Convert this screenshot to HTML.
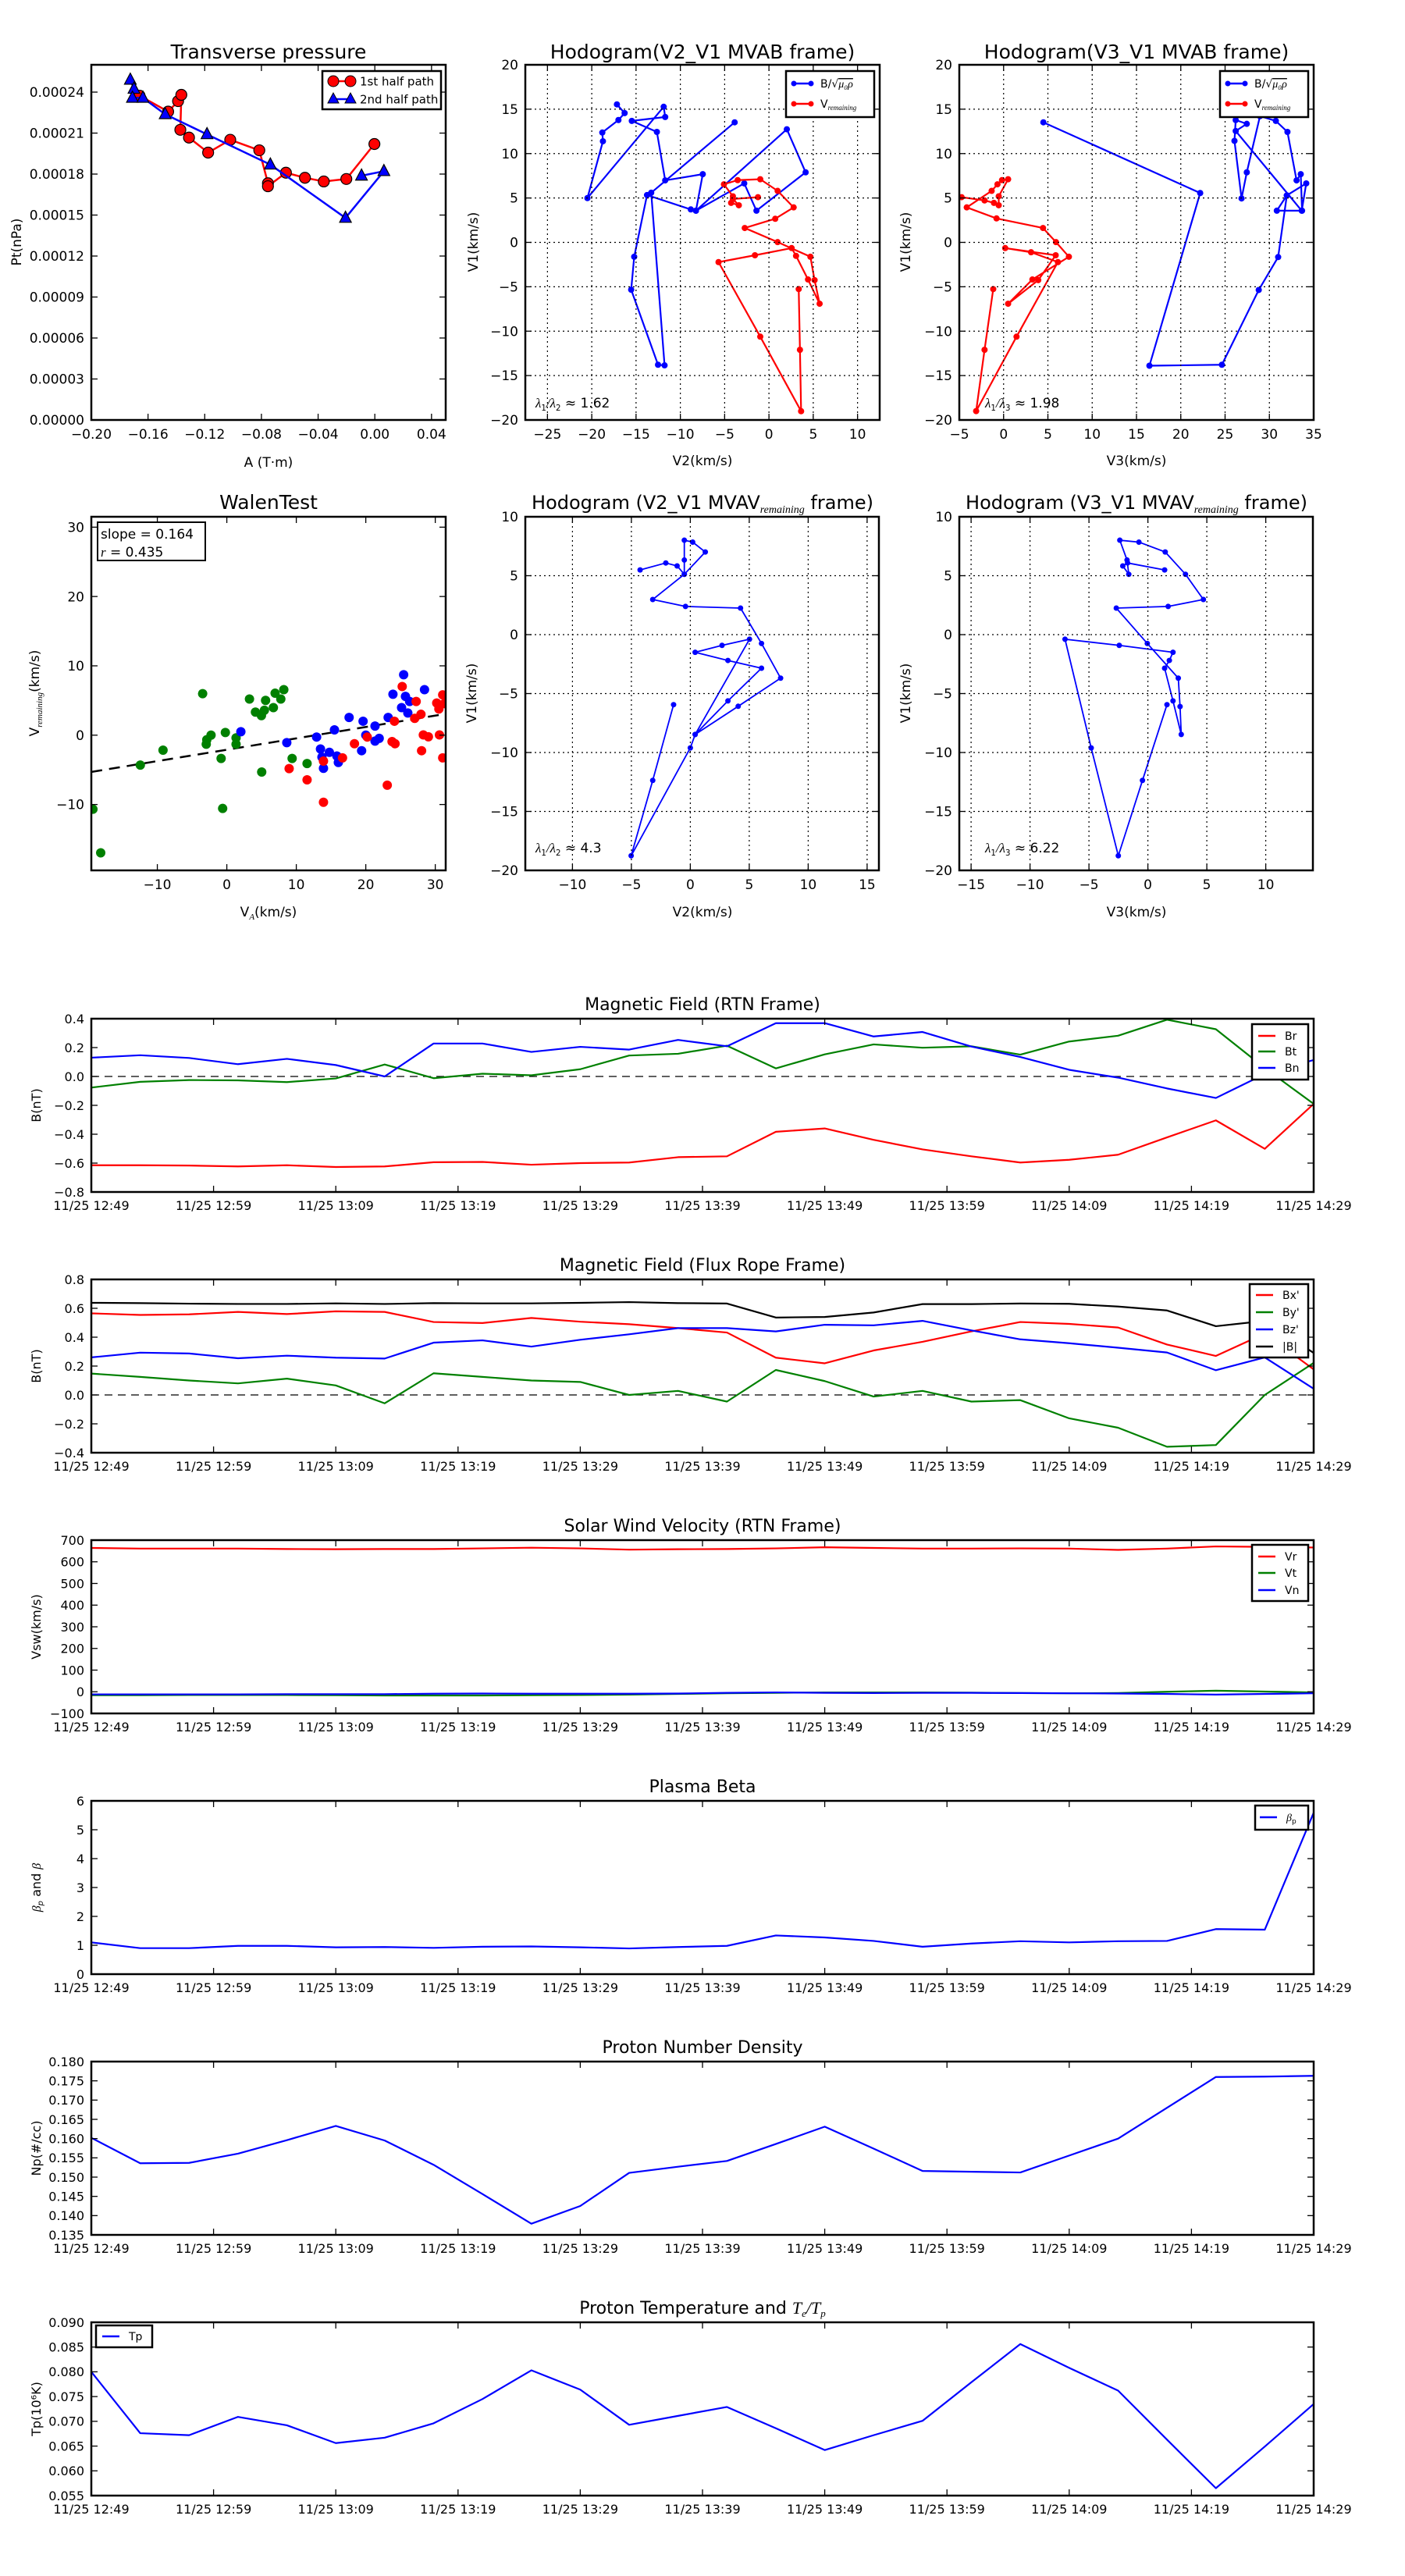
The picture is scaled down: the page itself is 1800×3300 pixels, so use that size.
<!DOCTYPE html>
<html><head><meta charset="utf-8"><title>Flux rope analysis</title>
<style>
html,body{margin:0;padding:0;background:#fff;}
svg{display:block;font-family:"DejaVu Sans","Liberation Sans",sans-serif;}
</style></head>
<body>
<svg id="fig" width="1800" height="3300" viewBox="0 0 1800 3300" xmlns="http://www.w3.org/2000/svg">
<rect x="0" y="0" width="1800" height="3300" fill="#fff"/>
</svg>
<script>
// ===== data =====
const tpRedA=[-0.166,-0.1458,-0.1388,-0.1365,-0.1372,-0.1311,-0.1176,-0.1020,-0.0815,-0.0754,-0.0754,-0.0627,-0.0493,-0.0360,-0.0201,-0.0003];
const tpRedP=[0.0002374,0.0002257,0.0002334,0.0002380,0.0002124,0.0002067,0.0001957,0.0002051,0.0001974,0.0001733,0.0001711,0.0001810,0.0001773,0.0001746,0.0001764,0.0002020];
const tpBlueA=[-0.1725,-0.1699,-0.1710,-0.1636,-0.1479,-0.1184,-0.0737,-0.0207,0.0064,-0.0094];
const tpBlueP=[0.000249,0.0002424,0.0002358,0.0002358,0.0002238,0.0002091,0.0001869,0.0001479,0.0001821,0.0001788];

const h1BV2=[-3.87,-13.29,-11.78,-12.52,-15.55,-15.21,-13.76,-8.82,-8.24,2.02,4.14,-1.41,-2.79,-8.24,-7.47,-11.71,-12.65,-15.48,-11.71,-11.88,-20.49,-18.74,-18.81,-16.99,-16.29,-17.16];
const h1BV1=[13.52,5.59,-13.85,-13.78,-5.33,-1.62,5.33,3.71,3.57,12.74,7.89,3.57,6.64,3.57,7.68,6.98,12.44,13.68,14.12,15.27,4.99,11.39,12.37,13.78,14.56,15.54];
const h1RV2=[3.36,3.50,3.63,-0.98,-5.69,-1.58,2.56,3.06,4.41,5.72,5.15,4.68,0.98,-2.73,0.71,2.79,0.98,-0.98,-3.53,-5.08,-4.07,-4.27,-3.40,-4.07,-1.24];
const h1RV1=[-5.26,-12.10,-19.01,-10.62,-2.22,-1.45,-0.64,-1.52,-4.18,-6.91,-4.25,-1.62,0.03,1.62,2.66,3.94,5.80,7.11,7.01,6.54,5.19,4.45,4.18,4.89,5.09];

const h3BV3=[4.49,22.19,16.46,24.64,28.80,30.99,31.97,34.16,33.65,26.20,27.45,26.20,26.06,26.86,27.45,28.94,30.73,32.04,33.07,33.54,33.69,30.84,31.97];
const h3BV1=[13.52,5.56,-13.89,-13.78,-5.36,-1.65,5.29,6.64,3.57,12.54,13.35,13.78,11.43,4.95,7.89,14.22,13.68,12.44,6.98,7.68,3.57,3.57,5.29];
const h3RV3=[-1.17,-2.15,-3.10,1.46,6.13,3.10,0.18,5.88,3.91,0.51,3.25,7.37,5.91,4.45,-0.80,-4.16,-1.35,-0.69,-0.18,0.51,-0.55,-0.55,-1.09,-2.15,-4.74];
const h3RV1=[-5.26,-12.10,-19.0,-10.62,-2.22,-1.11,-0.64,-1.45,-4.25,-6.91,-4.18,-1.62,0.03,1.62,2.70,3.94,5.80,6.54,7.01,7.11,5.19,4.18,4.45,4.72,5.09];

const wGX=[-3.48,3.26,5.58,6.95,8.20,7.77,4.12,4.98,5.41,6.70,-2.88,-2.27,-2.96,-0.21,1.33,1.33,-9.18,-12.45,-0.82,9.40,11.55,5.02,-0.60,-19.27,-18.15];
const wGY=[5.98,5.21,5.01,6.05,6.56,5.21,3.32,2.82,3.59,3.97,-0.66,0,-1.31,0.39,-0.39,-1.31,-2.16,-4.32,-3.36,-3.36,-4.09,-5.32,-10.57,-10.68,-16.97];
const wBX=[2.02,8.63,12.92,13.48,13.69,13.91,14.76,15.49,15.84,16.05,17.60,19.40,19.61,20.00,21.33,21.33,21.93,23.22,23.91,25.15,25.45,25.71,26.05,26.31,28.45];
const wBY=[0.50,-1.08,-0.27,-1.99,-3.16,-4.78,-2.47,0.77,-3.01,-3.93,2.55,-2.24,2.01,0,1.31,-0.85,-0.46,2.55,5.90,3.97,8.72,5.59,3.20,4.86,6.56];
const wRX=[8.97,11.55,13.91,13.91,16.65,18.37,20.21,23.09,23.78,24.21,24.12,25.24,27.04,27.25,27.94,28.03,28.28,29.01,30.21,30.52,30.60,31.07,31.07,31.29];
const wRY=[-4.82,-6.44,-3.74,-9.68,-3.28,-1.23,-0.27,-7.21,-0.93,-1.23,2.01,7.02,2.43,4.86,3.01,-2.24,0.04,-0.23,4.63,3.78,0.04,5.82,-3.28,4.55];
const walenSlope=0.164;
const walenIntercept=-2.1;

const h2V2=[-1.42,-3.19,-5.02,0,0.41,5.02,2.69,0.41,3.19,6.04,3.19,0.41,4.06,7.66,6.04,4.26,-0.41,-3.19,-0.51,1.27,0.20,-0.51,-0.51,-0.51,-1.12,-2.08,-4.26];
const h2V1=[-5.94,-12.37,-18.76,-9.61,-8.47,-0.39,-0.91,-1.50,-2.19,-2.85,-5.62,-8.47,-6.08,-3.69,-0.75,2.25,2.39,2.98,5.12,7.01,7.85,8.01,6.33,5.12,5.83,6.08,5.49];
const h4V3=[1.62,-0.46,-2.51,-4.81,-7.03,-2.43,2.13,1.82,1.42,2.13,2.83,2.73,2.58,-0.05,-2.68,1.72,4.71,3.19,1.47,-0.76,-2.38,-1.77,-1.62,-2.13,-1.72,1.42];
const h4V1=[-5.94,-12.37,-18.76,-9.61,-0.39,-0.91,-1.50,-2.19,-2.85,-5.62,-8.47,-6.10,-3.69,-0.75,2.25,2.39,2.98,5.12,7.01,7.85,8.01,6.33,5.12,5.83,6.08,5.49];

const tMinutes=[0,4,8,12,16,20,24,28,32,36,40,44,48,52,56,60,64,68,72,76,80,84,88,92,96,100];
const timeTickMin=[0,10,20,30,40,50,60,70,80,90,100];
const timeTickLabels=["11/25 12:49","11/25 12:59","11/25 13:09","11/25 13:19","11/25 13:29","11/25 13:39","11/25 13:49","11/25 13:59","11/25 14:09","11/25 14:19","11/25 14:29"];

const Br=[-0.615,-0.615,-0.617,-0.623,-0.615,-0.627,-0.623,-0.594,-0.592,-0.611,-0.600,-0.596,-0.559,-0.553,-0.383,-0.360,-0.439,-0.505,-0.553,-0.596,-0.577,-0.542,-0.422,-0.304,-0.501,-0.190];
const Bt=[-0.077,-0.037,-0.025,-0.027,-0.039,-0.014,0.083,-0.012,0.019,0.008,0.050,0.145,0.157,0.213,0.056,0.153,0.222,0.199,0.209,0.151,0.242,0.282,0.393,0.327,0.058,-0.190];
const Bn=[0.130,0.147,0.128,0.085,0.122,0.079,0.0,0.228,0.228,0.170,0.205,0.186,0.253,0.209,0.369,0.369,0.277,0.308,0.207,0.135,0.046,-0.008,-0.083,-0.149,0.017,0.114];
const Bxp=[0.565,0.554,0.558,0.575,0.560,0.579,0.575,0.505,0.498,0.533,0.507,0.490,0.463,0.432,0.258,0.219,0.308,0.368,0.440,0.505,0.492,0.467,0.349,0.270,0.425,0.177];
const Byp=[0.148,0.125,0.100,0.080,0.113,0.066,-0.058,0.150,0.125,0.100,0.090,0.0,0.028,-0.046,0.173,0.096,-0.011,0.028,-0.046,-0.036,-0.162,-0.227,-0.359,-0.347,0.0,0.222];
const Bzp=[0.260,0.293,0.287,0.254,0.272,0.258,0.252,0.362,0.378,0.335,0.382,0.420,0.463,0.463,0.440,0.486,0.482,0.513,0.447,0.385,0.358,0.327,0.294,0.171,0.260,0.043];
const Bmag=[0.638,0.636,0.632,0.630,0.630,0.634,0.630,0.636,0.634,0.634,0.638,0.643,0.636,0.633,0.536,0.540,0.571,0.629,0.629,0.633,0.631,0.612,0.585,0.476,0.513,0.291];
const Vr=[664,661,661,661,659,658,659,659,662,665,662,656,658,659,662,667,664,661,661,662,661,655,661,671,669,666];
const Vt=[-16,-16,-15,-15,-15,-16,-17,-17,-17,-16,-15,-13,-10,-7,-5,-3,-3,-3,-4,-6,-7,-6,0,5,1,-3];
const Vn=[-12,-12,-12,-12,-11,-11,-11,-9,-8,-9,-9,-9,-8,-5,-3,-5,-6,-5,-5,-6,-7,-8,-10,-13,-10,-7];
const betaP=[1.10,0.90,0.90,0.98,0.98,0.93,0.94,0.91,0.95,0.96,0.93,0.89,0.94,0.98,1.34,1.27,1.15,0.95,1.06,1.14,1.10,1.14,1.15,1.56,1.54,5.59];
const Np=[0.1602,0.1536,0.1537,0.1561,0.1596,0.1633,0.1595,0.1532,0.1456,0.1379,0.1425,0.1511,0.1527,0.1542,0.1586,0.1631,0.1574,0.1516,0.1514,0.1512,0.1556,0.1600,0.1680,0.1760,0.1761,0.1763];
const Tp=[0.0800,0.0676,0.0672,0.0709,0.0692,0.0656,0.0667,0.0696,0.0745,0.0803,0.0764,0.0693,0.0711,0.0729,0.0686,0.0642,0.0672,0.0701,0.0779,0.0856,0.0808,0.0762,0.0663,0.0565,0.0649,0.0735];

// ===== helpers =====
const NS='http://www.w3.org/2000/svg';
const svg=document.getElementById('fig');
function mk(tag,attrs,parent){const e=document.createElementNS(NS,tag);for(const k in attrs)e.setAttribute(k,attrs[k]);(parent||svg).appendChild(e);return e;}
function txt(s,x,y,attrs,parent){const t=mk('text',Object.assign({x:x,y:y},attrs),parent);t.textContent=s;return t;}
let clipN=0;
function axes(name,x0,y0,w,h,xmin,xmax,ymin,ymax){
  const g=mk('g',{});
  
  
  const id='clip'+(clipN++);
  const cp=mk('clipPath',{id:id},g);mk('rect',{x:x0,y:y0,width:w,height:h},cp);
  const plot=mk('g',{'clip-path':'url(#'+id+')'},g);
  
  
  return {g:g,plot:plot,x0:x0,y0:y0,w:w,h:h,
    sx:v=>x0+(v-xmin)/(xmax-xmin)*w, sy:v=>y0+h-(v-ymin)/(ymax-ymin)*h};
}
function frame(ax){const r=mk('rect',{x:ax.x0,y:ax.y0,width:ax.w,height:ax.h,fill:'none',stroke:'#000','stroke-width':2.5},ax.g);
  
  }
function xticks(ax,vals,labels,o){
  for(let i=0;i<vals.length;i++){const x=ax.sx(vals[i]);
    if(o.grid){const gl=mk('line',{x1:x,x2:x,y1:ax.y0,y2:ax.y0+ax.h,stroke:'#000','stroke-width':1.2,'stroke-dasharray':'2,4'},ax.g);
      
      }
    mk('line',{x1:x,x2:x,y1:ax.y0+ax.h,y2:ax.y0+ax.h-8,stroke:'#000','stroke-width':1.3},ax.g);
    mk('line',{x1:x,x2:x,y1:ax.y0,y2:ax.y0+8,stroke:'#000','stroke-width':1.3},ax.g);
    const t=txt(labels[i],x,ax.y0+ax.h+o.dy,{'font-size':o.fs,'text-anchor':'middle',fill:'#000'},ax.g);
    
    }
}
function yticks(ax,vals,labels,o){
  for(let i=0;i<vals.length;i++){const y=ax.sy(vals[i]);
    if(o.grid){const gl=mk('line',{x1:ax.x0,x2:ax.x0+ax.w,y1:y,y2:y,stroke:'#000','stroke-width':1.2,'stroke-dasharray':'2,4'},ax.g);
      
      }
    mk('line',{x1:ax.x0,x2:ax.x0+8,y1:y,y2:y,stroke:'#000','stroke-width':1.3},ax.g);
    mk('line',{x1:ax.x0+ax.w,x2:ax.x0+ax.w-8,y1:y,y2:y,stroke:'#000','stroke-width':1.3},ax.g);
    const t=txt(labels[i],ax.x0-9,y+o.fs*0.36,{'font-size':o.fs,'text-anchor':'end',fill:'#000'},ax.g);
    
    }
}
function series(ax,xs,ys,color,lw,name){
  const pts=xs.map((v,i)=>ax.sx(v).toFixed(2)+','+ax.sy(ys[i]).toFixed(2)).join(' ');
  const p=mk('polyline',{points:pts,fill:'none',stroke:color,'stroke-width':lw,'stroke-linejoin':'round'},ax.plot);
  
  
  return p;
}
function markers(ax,xs,ys,color,r,edge,name,tri){
  for(let i=0;i<xs.length;i++){const x=ax.sx(xs[i]),y=ax.sy(ys[i]);let m;
    if(tri){m=mk('polygon',{points:(x)+','+(y-r*1.15)+' '+(x-r)+','+(y+r*0.75)+' '+(x+r)+','+(y+r*0.75),fill:color,stroke:edge||'none','stroke-width':1.2},ax.plot);}
    else{m=mk('circle',{cx:x,cy:y,r:r,fill:color,stroke:edge||'none','stroke-width':1.2},ax.plot);}
    
    }
}
function title(s,x,y,fs){const t=txt(s,x,y,{'font-size':fs,'text-anchor':'middle',fill:'#000'});
  
  return t;}
function ylabel(s,x,y,fs){const t=txt(s,0,0,{'font-size':fs,'text-anchor':'middle',transform:'translate('+x+','+y+') rotate(-90)',fill:'#000'});
  
  return t;}
function xlabel(s,x,y,fs){const t=txt(s,x,y,{'font-size':fs,'text-anchor':'middle',fill:'#000'});
  
  return t;}
function legendBox(x,y,w,h){const g=mk('g',{});
  
  
  mk('rect',{x:x,y:y,width:w,height:h,fill:'#fff',stroke:'#000','stroke-width':2.5},g);return g;}
function legendEntry(g,x,y,color,label,fs,mark){
  const e=mk('g',{},g);
  
  
  mk('line',{x1:x,x2:x+22,y1:y,y2:y,stroke:color,'stroke-width':2.5},e);
  if(mark==='c'){mk('circle',{cx:x,cy:y,r:3.5,fill:color},e);mk('circle',{cx:x+22,cy:y,r:3.5,fill:color},e);}
  if(mark==='C'){mk('circle',{cx:x,cy:y,r:7,fill:color,stroke:'#000'},e);mk('circle',{cx:x+22,cy:y,r:7,fill:color,stroke:'#000'},e);}
  if(mark==='T'){[x,x+22].forEach(cx=>mk('polygon',{points:cx+','+(y-8)+' '+(cx-7)+','+(y+5)+' '+(cx+7)+','+(y+5),fill:color,stroke:'#000'},e));}
  const t=txt('',x+34,y+fs*0.36,{'font-size':fs,fill:'#000'},e);
  if(typeof label==='string'){t.textContent=label;}else{label(t);}
}
function range(a,b,s){const r=[];for(let v=a;v<=b+1e-9;v+=s)r.push(+v.toFixed(6));return r;}
const fmtN=(v,d)=>(v<0?'\u2212':'')+Math.abs(v).toFixed(d);

// ===== Row 1: transverse pressure =====
(function(){
  const ax=axes('transverse-pressure-chart',117,83,454,455,-0.20,0.05,0,0.00026);
  xticks(ax,range(-0.20,0.04,0.04),range(-0.20,0.04,0.04).map(v=>fmtN(v,2)),{fs:17,dy:24});
  yticks(ax,range(0,0.00024,0.00003),range(0,0.00024,0.00003).map(v=>v.toFixed(5)),{fs:17});
  series(ax,tpRedA,tpRedP,'#ff0000',2.5,'first-half-path-line');
  markers(ax,tpRedA,tpRedP,'#ff0000',7,'#000','first-half-marker');
  series(ax,tpBlueA,tpBlueP,'#0000ff',2.5,'second-half-path-line');
  markers(ax,tpBlueA,tpBlueP,'#0000ff',7.5,'#000','second-half-marker',true);
  frame(ax);
  title('Transverse pressure',344,75,25);
  xlabel('A (T\u00b7m)',344,598,17);
  ylabel('Pt(nPa)',27,310,17);
  const lg=legendBox(413,91,152,49);
  legendEntry(lg,427,104,'#ff0000','1st half path',15,'C');
  legendEntry(lg,427,127,'#0000ff','2nd half path',15,'T');
})();

function hodoLegend(x,y){
  const lg=legendBox(x,y,113,59);
  legendEntry(lg,x+10,y+16,'#0000ff',t=>{t.textContent='B/\u221a';const s=mk('tspan',{'font-style':'italic','font-family':'Liberation Serif,serif','text-decoration':'overline'},t);s.textContent='\u03bc\u2080\u03c1';},14,'c');
  legendEntry(lg,x+10,y+42,'#0000ff'==='x'?'':'#ff0000',t=>{t.textContent='V';const s=mk('tspan',{'font-style':'italic','font-size':9,dy:3,'font-family':'Liberation Serif,serif'},t);s.textContent='remaining';},14,'c');
}
function lambda(ax,x,y,sub,val,fs){
  const t=txt('',x,y,{'font-size':fs,fill:'#000'},ax.g);
  
  
  const a=mk('tspan',{'font-style':'italic','font-family':'Liberation Serif,serif'},t);a.textContent='\u03bb';
  const b=mk('tspan',{'font-size':fs*0.6,dy:4},t);b.textContent='1';
  const c=mk('tspan',{dy:-4,'font-family':'Liberation Serif,serif','font-style':'italic'},t);c.textContent='/\u03bb';
  const d=mk('tspan',{'font-size':fs*0.6,dy:4},t);d.textContent=sub;
  const e=mk('tspan',{dy:-4},t);e.textContent=' \u2248 '+val;
}

// ===== Row 1: hodogram V2_V1 MVAB =====
(function(){
  const ax=axes('hodogram-v2-v1-mvab',673,83,454,455,-27.5,12.5,-20,20);
  xticks(ax,range(-25,10,5),range(-25,10,5).map(v=>fmtN(v,0)),{fs:17,dy:24,grid:true});
  yticks(ax,range(-20,20,5),range(-20,20,5).map(v=>fmtN(v,0)),{fs:17,grid:true});
  series(ax,h1BV2,h1BV1,'#0000ff',2.2,'alfven-velocity-path');
  markers(ax,h1BV2,h1BV1,'#0000ff',4,null,'alfven-point');
  series(ax,h1RV2,h1RV1,'#ff0000',2.2,'remaining-velocity-path');
  markers(ax,h1RV2,h1RV1,'#ff0000',4,null,'remaining-point');
  frame(ax);
  lambda(ax,686,522,'2','1.62',17);
  title('Hodogram(V2_V1 MVAB frame)',900,75,25);
  xlabel('V2(km/s)',900,596,17);
  ylabel('V1(km/s)',612,310,17);
  hodoLegend(1007,91);
})();

// ===== Row 1: hodogram V3_V1 MVAB =====
(function(){
  const ax=axes('hodogram-v3-v1-mvab',1229,83,454,455,-5,35,-20,20);
  xticks(ax,range(-5,35,5),range(-5,35,5).map(v=>fmtN(v,0)),{fs:17,dy:24,grid:true});
  yticks(ax,range(-20,20,5),range(-20,20,5).map(v=>fmtN(v,0)),{fs:17,grid:true});
  series(ax,h3BV3,h3BV1,'#0000ff',2.2,'alfven-velocity-path');
  markers(ax,h3BV3,h3BV1,'#0000ff',4,null,'alfven-point');
  series(ax,h3RV3,h3RV1,'#ff0000',2.2,'remaining-velocity-path');
  markers(ax,h3RV3,h3RV1,'#ff0000',4,null,'remaining-point');
  frame(ax);
  lambda(ax,1262,522,'3','1.98',17);
  title('Hodogram(V3_V1 MVAB frame)',1456,75,25);
  xlabel('V3(km/s)',1456,596,17);
  ylabel('V1(km/s)',1166,310,17);
  hodoLegend(1563,91);
})();

// ===== Row 2: Walen test =====
(function(){
  const ax=axes('walen-test-chart',117,662,454,453,-19.5,31.5,-19.5,31.5);
  xticks(ax,range(-10,30,10),range(-10,30,10).map(v=>fmtN(v,0)),{fs:17,dy:24});
  yticks(ax,range(-10,30,10),range(-10,30,10).map(v=>fmtN(v,0)),{fs:17});
  series(ax,[-19.5,31.5],[walenSlope*-19.5+walenIntercept,walenSlope*31.5+walenIntercept],'#000',2.5,'regression-line').setAttribute('stroke-dasharray','14,9');
  markers(ax,wGX,wGY,'#008000',6,null,'walen-point-green');
  markers(ax,wBX,wBY,'#0000ff',6,null,'walen-point-blue');
  markers(ax,wRX,wRY,'#ff0000',6,null,'walen-point-red');
  frame(ax);
  const box=mk('g',{},ax.g);
  
  
  mk('rect',{x:125,y:669,width:138,height:49,fill:'#fff',stroke:'#000','stroke-width':2},box);
  txt('slope = 0.164',129,690,{'font-size':17,fill:'#000'},box);
  const r=txt('',129,713,{'font-size':17,fill:'#000'},box);
  const ri=mk('tspan',{'font-style':'italic','font-family':'Liberation Serif,serif'},r);ri.textContent='r';
  const rv=mk('tspan',{},r);rv.textContent=' = 0.435';
  title('WalenTest',344,652,25);
  const xl=xlabel('V',344,1174,17);
  const xs=mk('tspan',{'font-size':11,dy:4,'font-style':'italic','font-family':'Liberation Serif,serif'},xl);xs.textContent='A';
  const xs2=mk('tspan',{dy:-4},xl);xs2.textContent='(km/s)';
  const yl=ylabel('V',50,888,17);
  const ys=mk('tspan',{'font-size':11,dy:4,'font-style':'italic','font-family':'Liberation Serif,serif'},yl);ys.textContent='remaining';
  const ys2=mk('tspan',{dy:-4},yl);ys2.textContent='(km/s)';
})();

function mvavTitle(x,comp){
  const t=title('Hodogram ('+comp+' MVAV',x,652,24);
  const s=mk('tspan',{'font-size':14,dy:5,'font-style':'italic','font-family':'Liberation Serif,serif'},t);s.textContent='remaining';
  const e=mk('tspan',{dy:-5},t);e.textContent=' frame)';
}
// ===== Row 2: hodogram V2_V1 MVAV =====
(function(){
  const ax=axes('hodogram-v2-v1-mvav',673,662,453,453,-14,16,-20,10);
  xticks(ax,range(-10,15,5),range(-10,15,5).map(v=>fmtN(v,0)),{fs:17,dy:24,grid:true});
  yticks(ax,range(-20,10,5),range(-20,10,5).map(v=>fmtN(v,0)),{fs:17,grid:true});
  series(ax,h2V2,h2V1,'#0000ff',1.8,'mvav-path');
  markers(ax,h2V2,h2V1,'#0000ff',3.5,null,'mvav-point');
  frame(ax);
  lambda(ax,686,1092,'2','4.3',17);
  mvavTitle(900,'V2_V1');
  xlabel('V2(km/s)',900,1174,17);
  ylabel('V1(km/s)',610,888,17);
})();
// ===== Row 2: hodogram V3_V1 MVAV =====
(function(){
  const ax=axes('hodogram-v3-v1-mvav',1229,662,453,453,-16,14,-20,10);
  xticks(ax,range(-15,10,5),range(-15,10,5).map(v=>fmtN(v,0)),{fs:17,dy:24,grid:true});
  yticks(ax,range(-20,10,5),range(-20,10,5).map(v=>fmtN(v,0)),{fs:17,grid:true});
  series(ax,h4V3,h4V1,'#0000ff',1.8,'mvav-path');
  markers(ax,h4V3,h4V1,'#0000ff',3.5,null,'mvav-point');
  frame(ax);
  lambda(ax,1262,1092,'3','6.22',17);
  mvavTitle(1456,'V3_V1');
  xlabel('V3(km/s)',1456,1174,17);
  ylabel('V1(km/s)',1166,888,17);
})();

// ===== Time series panels =====
function tsPanel(name,top,ymin,ymax,ystep,ydec,ttl,ylab,list,zero){
  const ax=axes(name,117,top,1566,222,0,100,ymin,ymax);
  xticks(ax,timeTickMin,timeTickLabels,{fs:16,dy:23});
  const yv=range(ymin,ymax,ystep);
  yticks(ax,yv,yv.map(v=>fmtN(v,ydec)),{fs:16});
  if(zero){const z=mk('line',{x1:117,x2:1683,y1:ax.sy(0),y2:ax.sy(0),stroke:'#000','stroke-width':1.3,'stroke-dasharray':'10,7'},ax.plot);
    
    }
  list.forEach(s=>series(ax,tMinutes,s[0],s[1],2.2,s[2]));
  frame(ax);
  const t=title(ttl,900,top-11,22);
  const yl=ylabel(ylab,52,top+111,16);
  return {ax:ax,title:t,ylab:yl};
}
tsPanel('magnetic-field-rtn-chart',1305,-0.8,0.4,0.2,1,'Magnetic Field (RTN Frame)','B(nT)',[[Br,'#ff0000','br-line'],[Bt,'#008000','bt-line'],[Bn,'#0000ff','bn-line']],true);
(function(){const lg=legendBox(1604,1312,72,71);
  legendEntry(lg,1612,1327,'#ff0000','Br',14);legendEntry(lg,1612,1347,'#008000','Bt',14);legendEntry(lg,1612,1368,'#0000ff','Bn',14);})();
tsPanel('magnetic-field-flux-rope-chart',1639,-0.4,0.8,0.2,1,'Magnetic Field (Flux Rope Frame)','B(nT)',[[Bxp,'#ff0000','bx-prime-line'],[Byp,'#008000','by-prime-line'],[Bzp,'#0000ff','bz-prime-line'],[Bmag,'#000000','b-magnitude-line']],true);
(function(){const lg=legendBox(1601,1645,75,94);
  legendEntry(lg,1609,1659,'#ff0000',"Bx'",14);legendEntry(lg,1609,1681,'#008000',"By'",14);legendEntry(lg,1609,1703,'#0000ff',"Bz'",14);legendEntry(lg,1609,1725,'#000000','|B|',14);})();
tsPanel('solar-wind-velocity-chart',1973,-100,700,100,0,'Solar Wind Velocity (RTN Frame)','Vsw(km/s)',[[Vr,'#ff0000','vr-line'],[Vt,'#008000','vt-line'],[Vn,'#0000ff','vn-line']],false);
(function(){const lg=legendBox(1604,1979,72,72);
  legendEntry(lg,1612,1994,'#ff0000','Vr',14);legendEntry(lg,1612,2015,'#008000','Vt',14);legendEntry(lg,1612,2037,'#0000ff','Vn',14);})();
(function(){const p=tsPanel('plasma-beta-chart',2307,0,6,1,0,'Plasma Beta','',[[betaP,'#0000ff','beta-p-line']],false);
  p.ylab.textContent='';
  const a=mk('tspan',{'font-style':'italic','font-family':'Liberation Serif,serif'},p.ylab);a.textContent='\u03b2';
  const b=mk('tspan',{'font-size':10,dy:3,'font-style':'italic'},p.ylab);b.textContent='p';
  const c=mk('tspan',{dy:-3},p.ylab);c.textContent=' and ';
  const d=mk('tspan',{'font-style':'italic','font-family':'Liberation Serif,serif'},p.ylab);d.textContent='\u03b2';
  const lg=legendBox(1608,2313,68,31);
  legendEntry(lg,1614,2328,'#0000ff',t=>{const s=mk('tspan',{'font-style':'italic','font-family':'Liberation Serif,serif'},t);s.textContent='\u03b2';const q=mk('tspan',{'font-size':9,dy:3},t);q.textContent='p';},14);})();
tsPanel('proton-density-chart',2641,0.135,0.180,0.005,3,'Proton Number Density','Np(#/cc)',[[Np,'#0000ff','np-line']],false);
(function(){const p=tsPanel('proton-temperature-chart',2975,0.055,0.090,0.005,3,'Proton Temperature and ','Tp(10\u2076K)',[[Tp,'#0000ff','tp-line']],false);
  const a=mk('tspan',{'font-style':'italic','font-family':'Liberation Serif,serif'},p.title);a.textContent='T';
  const b=mk('tspan',{'font-size':13,dy:4,'font-style':'italic','font-family':'Liberation Serif,serif'},p.title);b.textContent='e';
  const c=mk('tspan',{dy:-4,'font-style':'italic','font-family':'Liberation Serif,serif'},p.title);c.textContent='/T';
  const d=mk('tspan',{'font-size':13,dy:4,'font-style':'italic','font-family':'Liberation Serif,serif'},p.title);d.textContent='p';
  const lg=legendBox(123,2979,72,28);
  legendEntry(lg,131,2993,'#0000ff','Tp',14);})();
</script>
</body></html>
